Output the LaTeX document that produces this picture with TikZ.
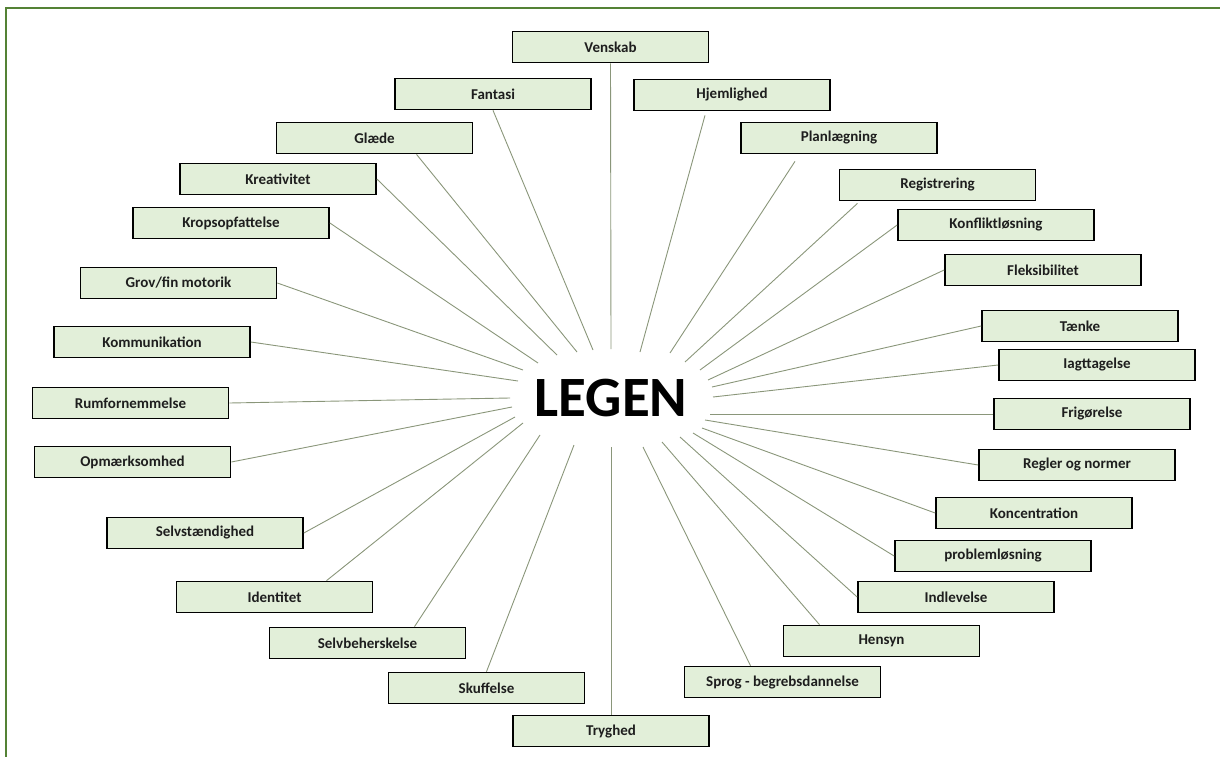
\documentclass[tikz,border=0pt]{standalone}
\usepackage{fontspec}
\setmainfont{Carlito}
\definecolor{boxgreen}{HTML}{E2EFD9}
\definecolor{framegreen}{HTML}{548235}
\definecolor{spoke}{RGB}{138,150,122}
\definecolor{ink}{HTML}{1E1E1E}
\begin{document}
\begin{tikzpicture}[x=1pt,y=-1pt,font=\bfseries]
  \tikzstyle{theme box}=[rectangle,draw=black,line width=1.7pt,fill=boxgreen,text=ink,
                         minimum width=196pt,minimum height=31pt,inner sep=0pt,font=\fontsize{15}{17}\selectfont\bfseries]
  \tikzstyle{spoke line}=[draw=spoke,line width=0.9pt]
  \tikzstyle{frame line}=[draw=framegreen,line width=2pt]

  \useasboundingbox (0,0) rectangle (1220,757);
  \draw[frame line] (1220,8.5) -- (5.5,8.5) -- (5.5,757);

  % centre
  \node(legen)[font=\fontsize{57}{60}\selectfont\bfseries] at (611,398) {LEGEN};

  % boxes, top to bottom
  \node(ven)[theme box] at (610.5,47) {Venskab};
  \node(fan)[theme box] at (493,94) {Fantasi};
  \node(hje)[theme box] at (732,95) {Hjemlighed};
  \node(gla)[theme box] at (374.5,138) {Glæde};
  \node(pla)[theme box] at (839,138) {Planlægning};
  \node(kre)[theme box] at (278,179) {Kreativitet};
  \node(regi)[theme box] at (937.5,185) {Registrering};
  \node(kro)[theme box] at (231,223) {Kropsopfattelse};
  \node(konf)[theme box] at (996,225) {Konfliktløsning};
  \node(gro)[theme box] at (178.5,283) {Grov/fin motorik};
  \node(fle)[theme box] at (1043,270) {Fleksibilitet};
  \node(kom)[theme box] at (152,342) {Kommunikation};
  \node(tae)[theme box] at (1080,326) {Tænke};
  \node(iag)[theme box] at (1097,365) {Iagttagelse};
  \node(rum)[theme box] at (130.5,403) {Rumfornemmelse};
  \node(fri)[theme box] at (1092,414) {Frigørelse};
  \node(opm)[theme box] at (132.5,462) {Opmærksomhed};
  \node(regl)[theme box] at (1077,465) {Regler og normer};
  \node(konc)[theme box] at (1034,513) {Koncentration};
  \node(selv)[theme box] at (205,533) {Selvstændighed};
  \node(pro)[theme box] at (993,556) {problemløsning};
  \node(ide)[theme box] at (274.5,597) {Identitet};
  \node(ind)[theme box] at (956,597) {Indlevelse};
  \node(selb)[theme box] at (367.5,643) {Selvbeherskelse};
  \node(hen)[theme box] at (881.5,641) {Hensyn};
  \node(sku)[theme box] at (486.5,688) {Skuffelse};
  \node(spr)[theme box] at (782.5,682) {Sprog - begrebsdannelse};
  \node(try)[theme box] at (611,731) {Tryghed};

  % inner ends of the spokes
  \coordinate(c-ven) at (611,349);
  \coordinate(c-fan) at (593,350);
  \coordinate(c-hje) at (640,352);
  \coordinate(c-gla) at (577,352);
  \coordinate(c-pla) at (670,353);
  \coordinate(c-kre) at (557,355);
  \coordinate(c-regi) at (685,362);
  \coordinate(c-kro) at (538,363);
  \coordinate(c-konf) at (700,370);
  \coordinate(c-gro) at (523,370);
  \coordinate(c-fle) at (708,380);
  \coordinate(c-kom) at (518,381);
  \coordinate(c-tae) at (712,387);
  \coordinate(c-iag) at (713,397);
  \coordinate(c-rum) at (510,398);
  \coordinate(c-fri) at (710,414);
  \coordinate(c-opm) at (512,407);
  \coordinate(c-regl) at (705,420);
  \coordinate(c-konc) at (702,428);
  \coordinate(c-selv) at (515,417);
  \coordinate(c-pro) at (693,433);
  \coordinate(c-ide) at (523,423);
  \coordinate(c-ind) at (680,437);
  \coordinate(c-selb) at (540,435);
  \coordinate(c-hen) at (662,442);
  \coordinate(c-sku) at (574,445);
  \coordinate(c-spr) at (643,447);
  \coordinate(c-try) at (611,447);

  % spokes
  \draw[spoke line] (c-ven) -- (ven.south);
  \draw[spoke line] (c-fan) -- (fan.south);
  \draw[spoke line] (c-hje) -- ([xshift=-27pt,yshift=-4pt]hje.south);
  \draw[spoke line] (c-gla) -- ([xshift=42pt]gla.south);
  \draw[spoke line] (c-pla) -- ([xshift=-44pt,yshift=-7pt]pla.south);
  \draw[spoke line] (c-kre) -- (kre.east);
  \draw[spoke line] (c-regi) -- ([xshift=-80pt,yshift=-2pt]regi.south);
  \draw[spoke line] (c-kro) -- (kro.east);
  \draw[spoke line] (c-konf) -- (konf.west);
  \draw[spoke line] (c-gro) -- (gro.east);
  \draw[spoke line] (c-fle) -- (fle.west);
  \draw[spoke line] (c-kom) -- (kom.east);
  \draw[spoke line] (c-tae) -- (tae.west);
  \draw[spoke line] (c-iag) -- (iag.west);
  \draw[spoke line] (c-rum) -- (rum.east);
  \draw[spoke line] (c-fri) -- (fri.west);
  \draw[spoke line] (c-opm) -- (opm.east);
  \draw[spoke line] (c-regl) -- (regl.west);
  \draw[spoke line] (c-konc) -- (konc.west);
  \draw[spoke line] (c-selv) -- (selv.east);
  \draw[spoke line] (c-pro) -- (pro.west);
  \draw[spoke line] (c-ide) -- ([xshift=52pt]ide.north);
  \draw[spoke line] (c-ind) -- (ind.west);
  \draw[spoke line] (c-selb) -- ([xshift=47pt]selb.north);
  \draw[spoke line] (c-hen) -- ([xshift=-62pt]hen.north);
  \draw[spoke line] (c-sku) -- (sku.north);
  \draw[spoke line] (c-spr) -- ([xshift=-32pt]spr.north);
  \draw[spoke line] (c-try) -- (try.north);

\end{tikzpicture}
\end{document}
